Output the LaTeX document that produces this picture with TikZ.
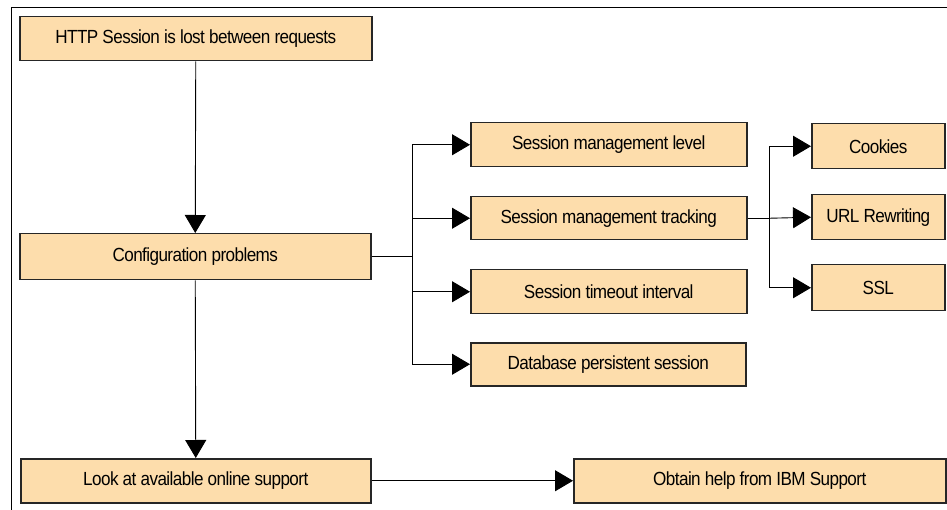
\documentclass[tikz,border=0pt]{standalone}
\usepackage{fontspec}
\setmainfont{Liberation Sans}[FakeStretch=0.9,LetterSpace=-3.0]
\usetikzlibrary{arrows.meta}
\definecolor{boxfill}{RGB}{253,221,172}
\begin{document}
\begin{tikzpicture}[x=1pt,y=-1pt,
  stepbox/.style={draw=black!85,line width=1.5pt,fill=boxfill,anchor=north west,
    inner sep=0pt,font=\fontsize{19}{21}\selectfont},
  link/.style={draw=black,line width=0.9pt},
  arr/.style={link,-{Triangle[length=18pt,width=21pt]}}]
  \useasboundingbox (0,0) rectangle (947,510);
  % frame: left and top rules
  \draw[line width=1.3pt] (11.5,510) -- (11.5,7.5) -- (947,7.5);

  % main column
  \node[stepbox,minimum width=352pt,minimum height=44pt] (lost) at (19,16) {HTTP Session is lost between requests};
  \node[stepbox,minimum width=351pt,minimum height=46pt] (config) at (19,233) {Configuration problems};
  \node[stepbox,minimum width=350pt,minimum height=44pt] (online) at (20,458) {Look at available online support};
  \node[stepbox,minimum width=372pt,minimum height=44pt] (ibm) at (573,458) {Obtain help from IBM Support};

  % configuration items
  \node[stepbox,minimum width=276pt,minimum height=44pt] (level) at (470,122) {Session management level};
  \node[stepbox,minimum width=276pt,minimum height=43pt] (tracking) at (470,196) {Session management tracking};
  \node[stepbox,minimum width=276pt,minimum height=44pt] (timeout) at (470,269) {Session timeout interval};
  \node[stepbox,minimum width=275pt,minimum height=43pt] (db) at (470,342) {Database persistent session};

  % tracking methods
  \node[stepbox,minimum width=133pt,minimum height=45pt] (cookies) at (811,123) {Cookies};
  \node[stepbox,minimum width=133pt,minimum height=45pt] (url) at (811,194) {URL Rewriting};
  \node[stepbox,minimum width=133pt,minimum height=46pt] (ssl) at (811,264) {SSL};

  % branch points
  \coordinate (cfgfork) at (412,256);
  \coordinate (trkfork) at (769,217);

  % connectors
  \draw[arr] (lost.south) -- (config.north);
  \draw[arr] (config.south) -- (online.north);
  \draw[arr] (online.east) -- (online.east -| ibm.west);

  \draw[link] (config.east) -- (config.east -| cfgfork);
  \draw[arr] (config.east -| cfgfork) |- (level.west);
  \draw[arr] (config.east -| cfgfork) |- (tracking.west);
  \draw[arr] (config.east -| cfgfork) |- (timeout.west);
  \draw[arr] (config.east -| cfgfork) |- (db.west);

  \draw[link] (tracking.east) -- (tracking.east -| trkfork);
  \draw[arr] (tracking.east -| trkfork) |- (cookies.west);
  \draw[arr] (tracking.east -| trkfork) -- (url.west);
  \draw[arr] (tracking.east -| trkfork) |- (ssl.west);
\end{tikzpicture}
\end{document}
